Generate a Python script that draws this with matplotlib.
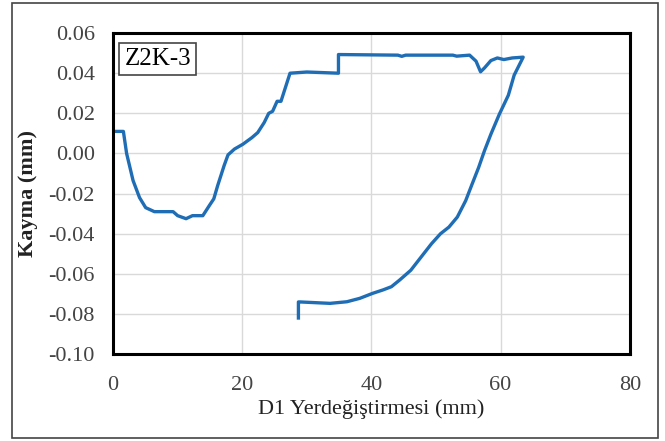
import matplotlib.pyplot as plt
from matplotlib.patches import Rectangle

# D1 yerdeğiştirmesi (mm) ve kayma (mm)
d1 = [0.0, 0.0, 1.6, 2.1, 3.1, 4.1, 5.05, 6.4, 9.3, 10.0, 11.3, 12.3, 13.9, 14.9,
      15.6, 16.2, 17.2, 17.8, 18.8, 20.1, 21.5, 22.4, 23.4, 24.1, 24.7, 25.4, 26.0,
      26.4, 27.4, 30.0, 34.9, 34.9, 44.1, 44.7, 45.3, 52.6, 53.2, 55.2, 56.2, 56.9,
      57.5, 58.5, 59.5, 60.5, 61.8, 63.5,
      62.1, 61.2, 59.8, 58.5, 57.5, 56.6, 55.6, 54.6, 53.3, 52.0, 50.7, 49.3, 47.7,
      46.1, 44.4, 43.1, 41.8, 40.2, 38.2, 36.2, 33.6, 31.6, 29.0, 28.7, 28.7]
kayma = [0.0, 0.011, 0.011, 0.0, -0.0135, -0.022, -0.027, -0.029, -0.029, -0.031,
         -0.0325, -0.031, -0.031, -0.026, -0.0226, -0.016, -0.006, -0.0007, 0.0022,
         0.0046, 0.0079, 0.0104, 0.0154, 0.020, 0.021, 0.026, 0.026, 0.030, 0.040,
         0.0406, 0.040, 0.0493, 0.049, 0.0484, 0.049, 0.049, 0.0485, 0.049, 0.046,
         0.0407, 0.0426, 0.0463, 0.0476, 0.0468, 0.0476, 0.048,
         0.039, 0.029, 0.0195, 0.0096, 0.0013, -0.007, -0.0152, -0.0235, -0.0317,
         -0.0367, -0.040, -0.045, -0.0516, -0.0582, -0.063, -0.0664, -0.068, -0.0697,
         -0.0722, -0.0739, -0.0747, -0.0744, -0.074, -0.074, -0.082]

xticks = [0, 20, 40, 60, 80]
yticks = [-0.10, -0.08, -0.06, -0.04, -0.02, 0.00, 0.02, 0.04, 0.06]

plt.rcParams['font.family'] = ['Liberation Serif', 'DejaVu Serif']

fig = plt.figure(figsize=(6.65, 4.41), dpi=100)
ax = fig.add_axes([0.170, 0.197, 0.777, 0.728])

ax.plot(d1, kayma, color='#1f6db5', linewidth=2.4, solid_joinstyle='round')

ax.set_xlim(0, 80)
ax.set_ylim(-0.10, 0.06)
ax.set_xticks(xticks)
ax.set_yticks(yticks)
ax.set_yticklabels(['%.2f' % v for v in yticks])
ax.tick_params(length=0, labelsize=16, colors='#444444')
ax.tick_params(axis='x', pad=16)
ax.tick_params(axis='y', pad=13)
ax.grid(True, color='#d9d9d9', linewidth=1)
ax.set_axisbelow(True)
for s in ax.spines.values():
    s.set_linewidth(2.2)
    s.set_color('black')

ax.set_xlabel('D1 Yerdeğiştirmesi (mm)', fontsize=16, color='#222222', labelpad=3)
ax.set_ylabel('Kayma (mm)', fontsize=16, fontweight='bold', color='#222222', labelpad=8)

ax.text(0.022, 0.955, 'Z2K-3', transform=ax.transAxes, fontsize=18, va='top', ha='left',
        bbox=dict(boxstyle='square,pad=0.2', facecolor='white', edgecolor='#444444', linewidth=1.2))

# dış çerçeve
fig.patches.append(Rectangle((0.018, 0.006), 0.972, 0.988, transform=fig.transFigure,
                             fill=False, edgecolor='#444444', linewidth=1.2))

fig.savefig('out.png', dpi=100)
